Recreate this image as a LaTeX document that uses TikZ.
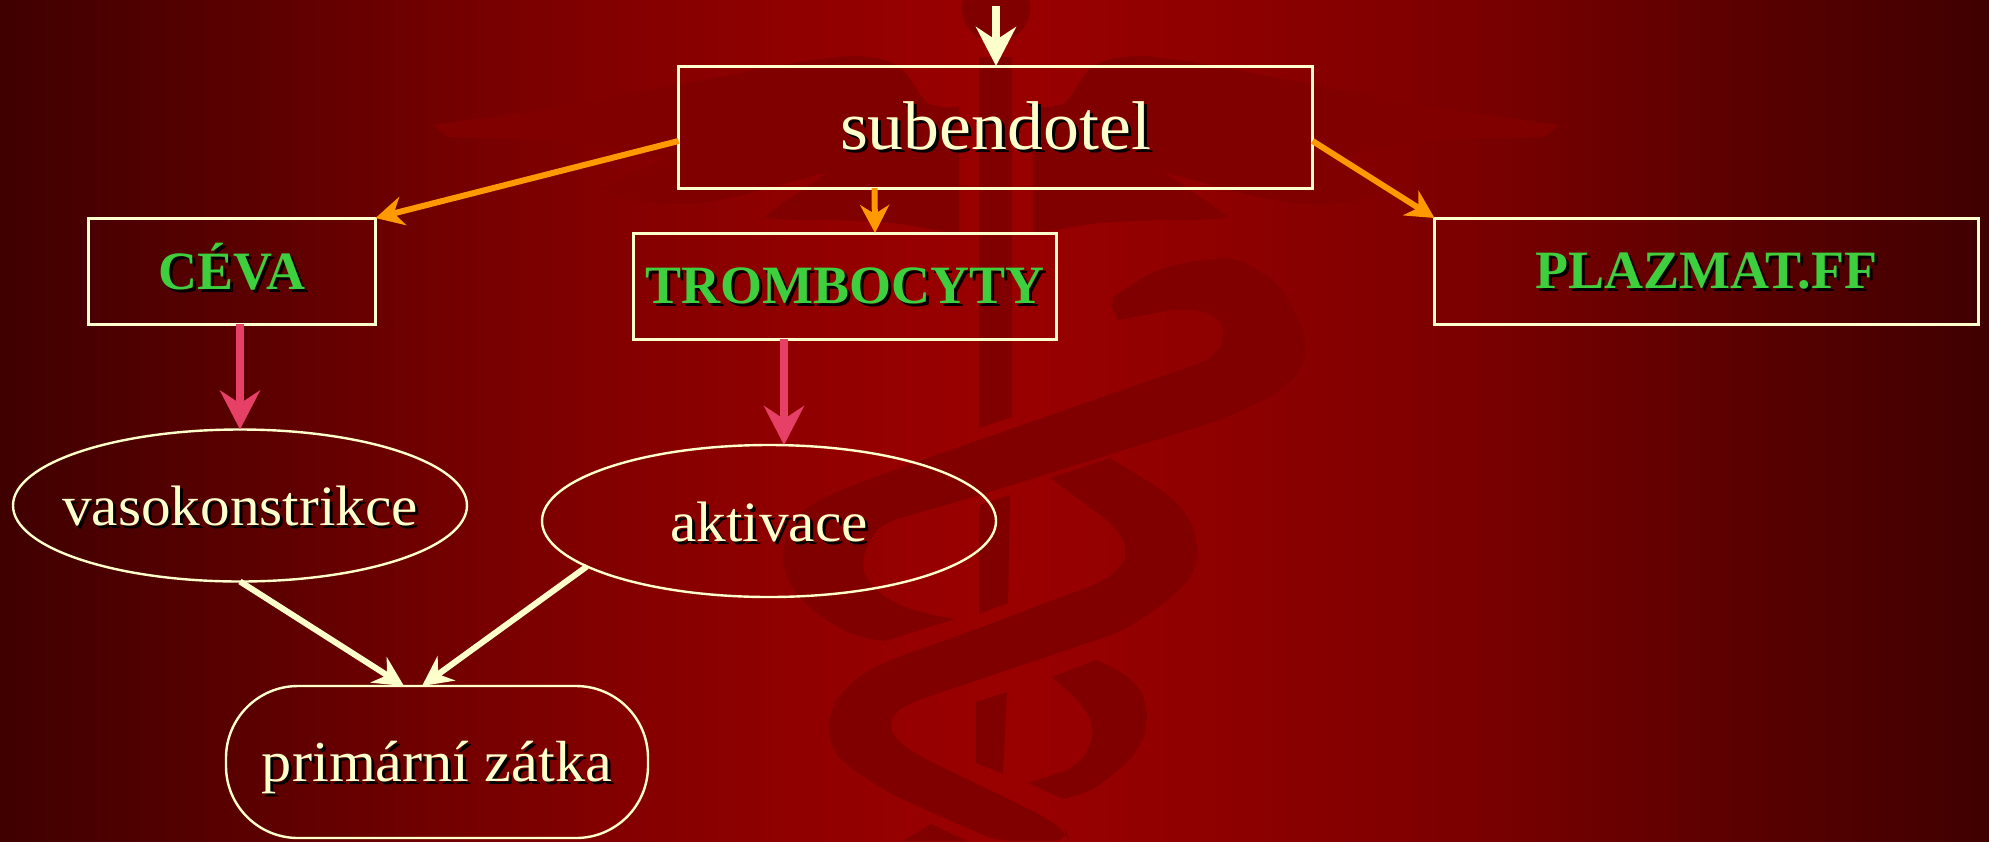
\documentclass[tikz,border=0pt]{standalone}
\usepackage{fontspec}
\setmainfont[FakeStretch=1.04,BoldFeatures={FakeStretch=1.0}]{Liberation Serif}
\usetikzlibrary{arrows.meta,shapes.geometric}
\definecolor{cream}{HTML}{FFFFCC}
\definecolor{orangeline}{HTML}{FF9900}
\definecolor{pinkline}{HTML}{E64066}
\definecolor{greentext}{HTML}{3ECF3E}
\definecolor{wmark}{HTML}{800000}
\pgfdeclarehorizontalshading{bgshade}{100bp}{
  rgb(0bp)=(0.25,0,0);
  rgb(25bp)=(0.25,0,0);
  rgb(31.16bp)=(0.353,0,0);
  rgb(37.32bp)=(0.47,0,0);
  rgb(40.38bp)=(0.514,0,0);
  rgb(45bp)=(0.565,0,0);
  rgb(49bp)=(0.597,0,0);
  rgb(50bp)=(0.60,0,0);
  rgb(51bp)=(0.597,0,0);
  rgb(55bp)=(0.565,0,0);
  rgb(59.62bp)=(0.514,0,0);
  rgb(62.68bp)=(0.47,0,0);
  rgb(68.84bp)=(0.353,0,0);
  rgb(75bp)=(0.25,0,0);
  rgb(100bp)=(0.25,0,0)}
\newcommand\shtext[3]{\makebox[0pt]{\raisebox{-#1}[0pt][0pt]{\rlap{\kern 1.5pt\raisebox{-1.5pt}{\color{black}#3}}\color{#2}#3}}}
\tikzset{
  box/.style={draw=cream,line width=1.5pt,rectangle,inner sep=0pt,outer sep=0pt},
  oval/.style={draw=cream,line width=1.2pt,ellipse,inner sep=0pt,outer sep=0pt,minimum width=227pt,minimum height=76pt},
  pill/.style={draw=cream,line width=1.2pt,rectangle,rounded corners=36pt,inner sep=0pt,outer sep=0pt},
  hdtext/.style={font=\fontsize{27}{30}\selectfont\bfseries},
  ovtext/.style={font=\fontsize{28.5}{32}\selectfont},
  creambig/.style={draw=cream,line width=4pt,-{Stealth[length=19.5pt,width=20pt,inset=6.5pt]},fill=cream},
  creamsmall/.style={draw=cream,line width=3pt,-{Stealth[length=15pt,width=15pt,inset=5pt]}},
  pinkarrow/.style={draw=pinkline,line width=4pt,-{Stealth[length=19.5pt,width=20pt,inset=6.5pt]}},
  orangearrow/.style={draw=orangeline,line width=3pt,-{Stealth[length=14pt,width=14.5pt,inset=4.5pt]}},
  wm/.style={fill=wmark,draw=none}
}
\newcommand\wmrc{[rounded corners=8pt]}
\newcommand\wmsc{[sharp corners]}
\newcommand\wingpath{(1033,234)--(1033,107)\wmrc--(1057,108)--(1072,100)--(1080,77)--(1100,60)--(1140,55)--(1200,63)--(1315,85)--(1433,107)\wmsc--(1559,125)--(1545,137)\wmrc--(1432,140)\wmsc--(1327,158)\wmrc--(1355,173)\wmsc--(1392,188)\wmrc--(1359,202)--(1305,205)--(1255,197)\wmsc--(1164,172)--(1229,217)\wmrc--(1209,220)--(1158,220)--(1095,223)\wmsc--cycle}
\begin{document}
\begin{tikzpicture}[x=0.5pt,y=-0.5pt]
\useasboundingbox (0,0) rectangle (1989,841);
\path[shading=bgshade] (0,0) rectangle (1989,841);
% watermark
\fill[wm] \wingpath;
\begin{scope}[shift={(1992,0)},xscale=-1]
\fill[wm] \wingpath;
\end{scope}
\fill[wm] (996,8) circle[radius=34];
\fill[wm] (979,57)--(1012,57)--(1012,417)--(979,428)--cycle;
\fill[wm] (979,505)--(1010,495)--(1008,603)--(979,614)--cycle;
\fill[wm] (976,702)--(1007,692)--(1003,774)--(976,763)--cycle;
\fill[wm] (1112,307)--(1113,297)\wmrc--(1150,273)--(1183,262)--(1237,257)--(1281,285)--(1307,336)--(1303,370)--(1275,395)--(1220,420)--(980,495)--(883,523)--(873,533)--(860,562)--(867,583)--(893,603)--(923,613)\wmsc--(955,619)--(885,641)\wmrc--(857,637)--(830,623)--(803,603)--(785,577)--(782,550)--(790,520)--(810,505)--(833,493)--(867,480)--(913,463)--(1200,363)--(1218,355)--(1226,335)--(1220,315)--(1183,308)\wmsc--(1118,320)--cycle;
\fill[wm] (1050,478)--(1110,458)\wmrc--(1167,493)--(1190,517)--(1197,540)--(1198,553)--(1197,570)--(1180,590)--(1153,612)--(1120,632)--(910,703)--(892,713)--(888,725)--(895,740)--(923,758)--(1027,808)--(1050,820)--(1067,833)--(1070,841)--(997,841)--(933,813)--(887,792)--(843,763)--(833,750)--(828,732)--(830,710)--(843,690)--(863,673)--(890,660)--(993,623)--(1053,600)--(1100,583)--(1123,567)--(1129,550)--(1120,533)\wmsc--(1107,520)--cycle;
\fill[wm] (1052,677)--(1096,660)\wmrc--(1110,665)--(1137,683)--(1147,703)--(1147,727)--(1140,748)--(1123,767)--(1090,792)\wmsc--(1063,799)--(1028,783)\wmrc--(1077,767)--(1093,743)--(1094,727)--(1087,710)\wmsc--(1070,693)--cycle;
\fill[wm] (903,841)--(931,824)--(967,841)--cycle;
% nodes
\node[box,minimum width=317pt,minimum height=61pt] (sub) at (995.5,127) {\fontsize{34.5}{36}\selectfont\shtext{11pt}{cream}{subendotel}};
\node[box,hdtext,minimum width=143.5pt,minimum height=53pt] (ceva) at (232,271) {\shtext{9pt}{greentext}{CÉVA}};
\node[box,hdtext,minimum width=211.5pt,minimum height=53pt] (tromb) at (845,286) {\shtext{8.5pt}{greentext}{TROMBOCYTY}};
\node[box,hdtext,minimum width=272pt,minimum height=53pt] (plaz) at (1706.5,271) {\shtext{8.5pt}{greentext}{PLAZMAT.FF}};
\node[oval,ovtext] (vaso) at (240,505.5) {\shtext{10pt}{cream}{vasokonstrikce}};
\node[oval,ovtext] (akt) at (769,521) {\shtext{10pt}{cream}{aktivace}};
\node[pill,ovtext,font=\fontsize{29}{32}\selectfont,minimum width=211pt,minimum height=76pt] (prim) at (437,762) {\shtext{9.5pt}{cream}{primární zátka}};
\coordinate (top) at (996,6);
% connectors
\draw[creambig] (top) -- (top |- sub.north);
\draw[orangearrow] ([yshift=-7pt]sub.west) -- (ceva.north east);
\draw[orangearrow] ([yshift=-7pt]sub.east) -- (plaz.north west);
\draw[orangearrow] ([xshift=-60.5pt]sub.south) -- ([xshift=15pt]tromb.north);
\draw[pinkarrow] (ceva.south -| vaso.north) -- (vaso.north);
\draw[pinkarrow] ([xshift=-30.5pt]tromb.south) -- ([xshift=7.5pt]akt.north);
\draw[creamsmall] (vaso.south) -- ([xshift=-16.5pt]prim.north);
\draw[creamsmall] (akt.194) -- ([xshift=-7.5pt]prim.north);
\end{tikzpicture}
\end{document}
